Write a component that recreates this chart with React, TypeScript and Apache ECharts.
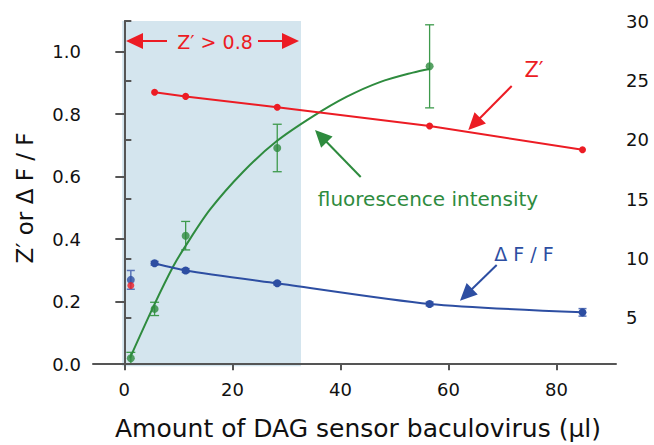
import React, { useEffect, useRef } from "react";
import * as echarts from "echarts";

// ---- data ----
const xPositions = [5.6, 11.35, 28.3, 56.5, 84.8];
const zPrime = [0.87, 0.857, 0.822, 0.762, 0.686];
const deltaF = [0.323, 0.3, 0.259, 0.193, 0.166];
const deltaFErr = [0.006, 0.006, 0.005, 0.006, 0.012];
const controlX = 1.2;
const controlZ = 0.252;
const controlDF = 0.27;
const controlDFErr = 0.03;
const fluoX = [1.2, 5.6, 11.35, 28.3, 56.5];
const fluoY = [1.58, 5.74, 11.91, 19.3, 26.18];
const fluoErr = [0.5, 0.56, 1.2, 2.0, 3.5];
const fluoFitX = [1.05, 5.55, 9.06, 11.28, 15.84, 22.0, 28.17, 34.9, 41.1, 47.3, 53.4, 56.5];
const fluoFitY = [1.61, 6.1, 9.33, 11.01, 14.1, 17.3, 19.86, 21.96, 23.6, 24.85, 25.65, 25.96];
const shadeRange = [-0.4, 32.7];
const xTicks = [0, 20, 40, 60, 80];
const leftTicks = [0, 0.2, 0.4, 0.6, 0.8, 1.0];
const rightTicks = [5, 10, 15, 20, 25, 30];

const RED = "#ec1c24";
const GREEN = "#2e8b3e";
const BLUE = "#2d4ea2";
const AXIS = "#555555";
const FONT = "DejaVu Sans";

const errorBar = (color: string, capW: number, lw: number) => (params: any, api: any) => {
  const x = api.value(0);
  const lo = api.coord([x, api.value(1)]);
  const hi = api.coord([x, api.value(2)]);
  const s = { stroke: color, lineWidth: lw };
  return {
    type: "group",
    children: [
      { type: "line", shape: { x1: lo[0], y1: lo[1], x2: hi[0], y2: hi[1] }, style: s },
      { type: "line", shape: { x1: lo[0] - capW, y1: lo[1], x2: lo[0] + capW, y2: lo[1] }, style: s },
      { type: "line", shape: { x1: hi[0] - capW, y1: hi[1], x2: hi[0] + capW, y2: hi[1] }, style: s },
    ],
  };
};

function arrow(x1: number, y1: number, x2: number, y2: number, color: string, len = 17, hw = 8, lw = 2) {
  const dx = x2 - x1, dy = y2 - y1;
  const d = Math.sqrt(dx * dx + dy * dy);
  const ux = dx / d, uy = dy / d;
  const bx = x2 - ux * len, by = y2 - uy * len;
  const px = -uy, py = ux;
  return [
    { type: "line", shape: { x1, y1, x2: bx + ux * 2, y2: by + uy * 2 }, style: { stroke: color, lineWidth: lw }, z: 20 },
    {
      type: "polygon",
      shape: { points: [[x2, y2], [bx + px * hw, by + py * hw], [bx - px * hw, by - py * hw]] },
      style: { fill: color },
      z: 20,
    },
  ];
}

export default function App() {
  const ref = useRef<HTMLDivElement>(null);
  useEffect(() => {
    if (!ref.current) return;
    const chart = echarts.init(ref.current, null, { renderer: "svg" });
    const xMin = -5.8, xMax = 91;
    const axisLine = { show: true, lineStyle: { color: AXIS, width: 2 } };
    const labelStyle = { color: "#111", fontSize: 18, fontFamily: FONT };
    chart.setOption({
      animation: false,
      grid: [
        { left: 93, right: 38, top: 27, bottom: 77, containLabel: false },
        { left: 93, right: 38, top: 21, bottom: 77, containLabel: false },
      ],
      xAxis: [
        {
          type: "value", gridIndex: 0, min: xMin, max: xMax, z: 5,
          axisLine, splitLine: { show: false },
          axisTick: { show: true, length: 6, lineStyle: { color: AXIS, width: 2 }, customValues: xTicks },
          axisLabel: { ...labelStyle, margin: 12, customValues: xTicks },
        },
        {
          type: "value", gridIndex: 1, min: xMin, max: xMax, show: false,
        },
      ],
      yAxis: [
        {
          type: "value", gridIndex: 0, min: -0.012, max: 1.079, position: "left", z: 5,
          axisLine, splitLine: { show: false },
          axisTick: { show: true, length: 9, lineStyle: { color: AXIS, width: 2 }, customValues: leftTicks },
          axisLabel: { ...labelStyle, margin: 12, customValues: leftTicks, formatter: (v: number) => v.toFixed(1) },
        },
        {
          type: "value", gridIndex: 1, min: 0.76, max: 30, position: "right", z: 5,
          axisLine, splitLine: { show: false },
          axisTick: { show: true, length: 7, lineStyle: { color: AXIS, width: 2 }, customValues: rightTicks },
          axisLabel: { ...labelStyle, margin: 10, customValues: rightTicks },
        },
      ],
      series: [
        {
          type: "line", xAxisIndex: 1, yAxisIndex: 1, data: [], z: 1, silent: true,
          markArea: {
            silent: true,
            itemStyle: { color: "#d4e5ee" },
            data: [[{ xAxis: shadeRange[0], yAxis: 0.9 }, { xAxis: shadeRange[1], yAxis: 30 }]],
          },
        },
        {
          type: "line", xAxisIndex: 1, yAxisIndex: 1, z: 3, smooth: 0.3, symbol: "none",
          data: fluoFitX.map((x, i) => [x, fluoFitY[i]]),
          lineStyle: { color: GREEN, width: 2 },
        },
        {
          type: "custom", xAxisIndex: 1, yAxisIndex: 1, z: 3,
          renderItem: errorBar("#3e9a4c", 4.5, 1.3),
          data: fluoX.map((x, i) => [x, fluoY[i] - fluoErr[i], fluoY[i] + fluoErr[i]]),
        },
        {
          type: "scatter", xAxisIndex: 1, yAxisIndex: 1, z: 4, symbolSize: 8,
          data: fluoX.map((x, i) => [x, fluoY[i]]),
          itemStyle: { color: GREEN },
        },
        {
          type: "line", xAxisIndex: 0, yAxisIndex: 0, z: 4, symbol: "circle", symbolSize: 7,
          data: xPositions.map((x, i) => [x, zPrime[i]]),
          lineStyle: { color: RED, width: 2 }, itemStyle: { color: RED },
        },
        {
          type: "custom", xAxisIndex: 0, yAxisIndex: 0, z: 4,
          renderItem: errorBar("#5a74b8", 4, 1.5),
          data: [[controlX, controlDF - controlDFErr, controlDF + controlDFErr]].concat(
            xPositions.map((x, i) => [x, deltaF[i] - deltaFErr[i], deltaF[i] + deltaFErr[i]])
          ),
        },
        {
          type: "line", xAxisIndex: 0, yAxisIndex: 0, z: 4, symbol: "circle", symbolSize: 8, smooth: 0.25,
          data: xPositions.map((x, i) => [x, deltaF[i]]),
          lineStyle: { color: BLUE, width: 2 }, itemStyle: { color: BLUE },
        },
        {
          type: "scatter", xAxisIndex: 0, yAxisIndex: 0, z: 5, symbolSize: 8,
          data: [[controlX, controlDF]], itemStyle: { color: BLUE },
        },
        {
          type: "scatter", xAxisIndex: 0, yAxisIndex: 0, z: 6, symbolSize: 7,
          data: [[controlX, controlZ]], itemStyle: { color: RED },
        },
      ],
      graphic: [
        ...arrow(167, 41, 126, 41, RED),
        ...arrow(258, 41, 299, 41, RED),
        {
          type: "text", x: 215, y: 42, z: 20,
          style: { text: "Z′ > 0.8", fill: RED, fontSize: 19, fontFamily: FONT, align: "center", verticalAlign: "middle" },
        },
        ...arrow(511.7, 86, 468.3, 130, RED),
        {
          type: "text", x: 534, y: 70, z: 20,
          style: { text: "Z′", fill: RED, fontSize: 21, fontFamily: FONT, align: "center", verticalAlign: "middle" },
        },
        ...arrow(360.7, 177, 315, 130, GREEN),
        {
          type: "text", x: 428, y: 199, z: 20,
          style: { text: "fluorescence intensity", fill: GREEN, fontSize: 20, fontFamily: FONT, align: "center", verticalAlign: "middle" },
        },
        ...arrow(496.7, 265, 460, 300.7, BLUE),
        {
          type: "text", x: 524, y: 254, z: 20,
          style: { text: "Δ F / F", fill: BLUE, fontSize: 19, fontFamily: FONT, align: "center", verticalAlign: "middle" },
        },
        {
          type: "text", x: 25, y: 198, rotation: Math.PI / 2, z: 20,
          style: { text: "Z′ or Δ F / F", fill: "#111", fontSize: 23, fontFamily: FONT, align: "center", verticalAlign: "middle" },
        },
        {
          type: "text", x: 358, y: 428, z: 20,
          style: { text: "Amount of DAG sensor baculovirus (µl)", fill: "#111", fontSize: 25, fontFamily: FONT, align: "center", verticalAlign: "middle" },
        },
      ],
    });
    return () => chart.dispose();
  }, []);
  return <div ref={ref} style={{ width: 654, height: 445, position: "absolute", left: 0, top: 0 }} />;
}
